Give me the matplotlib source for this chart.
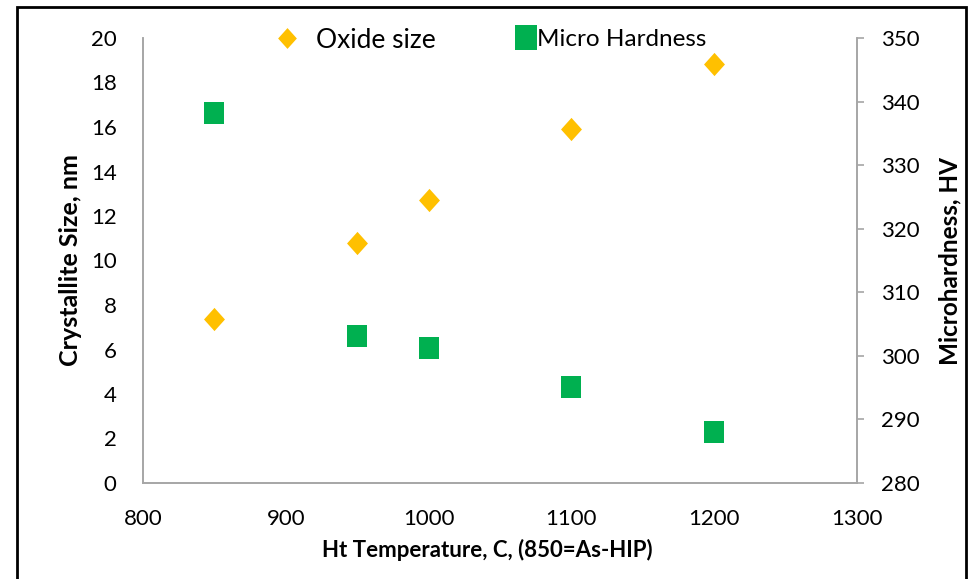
import matplotlib
matplotlib.use("Agg")
import matplotlib.pyplot as plt
from matplotlib.patches import Rectangle
from matplotlib.lines import Line2D

plt.rcParams['font.family'] = ['Lato', 'DejaVu Sans']

temps = [850, 950, 1000, 1100, 1200]
oxide_size = [7.37, 10.79, 12.72, 15.9, 18.83]
hardness = [338.2, 303.1, 301.2, 295.1, 288.0]

x_ticks = [800, 900, 1000, 1100, 1200, 1300]
left_ticks = [0, 2, 4, 6, 8, 10, 12, 14, 16, 18, 20]
right_ticks = [280, 290, 300, 310, 320, 330, 340, 350]

gold = '#FFC000'
green = '#00B050'
spine_col = '#A6A6A6'

diamond = [(0, 0.5), (0.45, 0), (0, -0.5), (-0.45, 0), (0, 0.5)]
square = [(-0.45, -0.5), (0.45, -0.5), (0.45, 0.5), (-0.45, 0.5), (-0.45, -0.5)]

fig = plt.figure(figsize=(9.73, 5.79), dpi=100)
ax = fig.add_axes([143/973, 96/579, (857-143)/973, (483-38)/579])
ax2 = ax.twinx()

ax.scatter(temps, oxide_size, marker=diamond, s=280, color=gold, linewidths=0, zorder=3)
ax2.scatter(temps, hardness, marker=square, s=250, color=green, linewidths=0, zorder=3)

ax.set_xlim(800, 1300)
ax.set_ylim(0, 20)
ax2.set_ylim(280, 350)
ax.set_xticks(x_ticks)
ax.set_yticks(left_ticks)
ax2.set_yticks(right_ticks)

for a in (ax, ax2):
    for s in a.spines.values():
        s.set_color(spine_col)
        s.set_linewidth(1.2)
    a.spines['top'].set_visible(False)

ax.tick_params(axis='y', length=0, pad=19, labelsize=16)
ax.tick_params(axis='x', length=0, pad=19, labelsize=16)
ax2.tick_params(axis='y', length=5, width=1.2, color=spine_col, direction='out', pad=12, labelsize=16)

ax.set_ylabel('Crystallite Size, nm', fontsize=18, fontweight='bold', labelpad=6)
ax2.set_ylabel('Microhardness, HV', fontsize=17.5, fontweight='bold', labelpad=14)
ax.set_xlabel('Ht Temperature, C, (850=As-HIP)', fontsize=16, fontweight='bold', labelpad=7)
ax.xaxis.set_label_coords((487-143)/714, -0.125)

h1 = Line2D([], [], marker=diamond, color=gold, linestyle='none', markersize=15, markeredgewidth=0)
h2 = Line2D([], [], marker=square, color=green, linestyle='none', markersize=18, markeredgewidth=0)
leg1 = ax2.legend([h1], ['Oxide size'], loc='center', bbox_to_anchor=(355/973, 1 - 40/579),
                  bbox_transform=fig.transFigure, frameon=False, fontsize=19,
                  handlelength=1.0, handletextpad=0.6)
ax2.add_artist(leg1)
leg2 = ax2.legend([h2], ['Micro Hardness'], loc='center', bbox_to_anchor=(612/973, 1 - 39/579),
                  bbox_transform=fig.transFigure, frameon=False, fontsize=17.5,
                  handlelength=0.7, handletextpad=0.1)

fig.patches.append(Rectangle((17/973, -0.02), (966-17)/973, (579-7)/579 + 0.02,
                             transform=fig.transFigure, fill=False,
                             edgecolor='black', linewidth=2))

fig.savefig('out.png', dpi=100)
